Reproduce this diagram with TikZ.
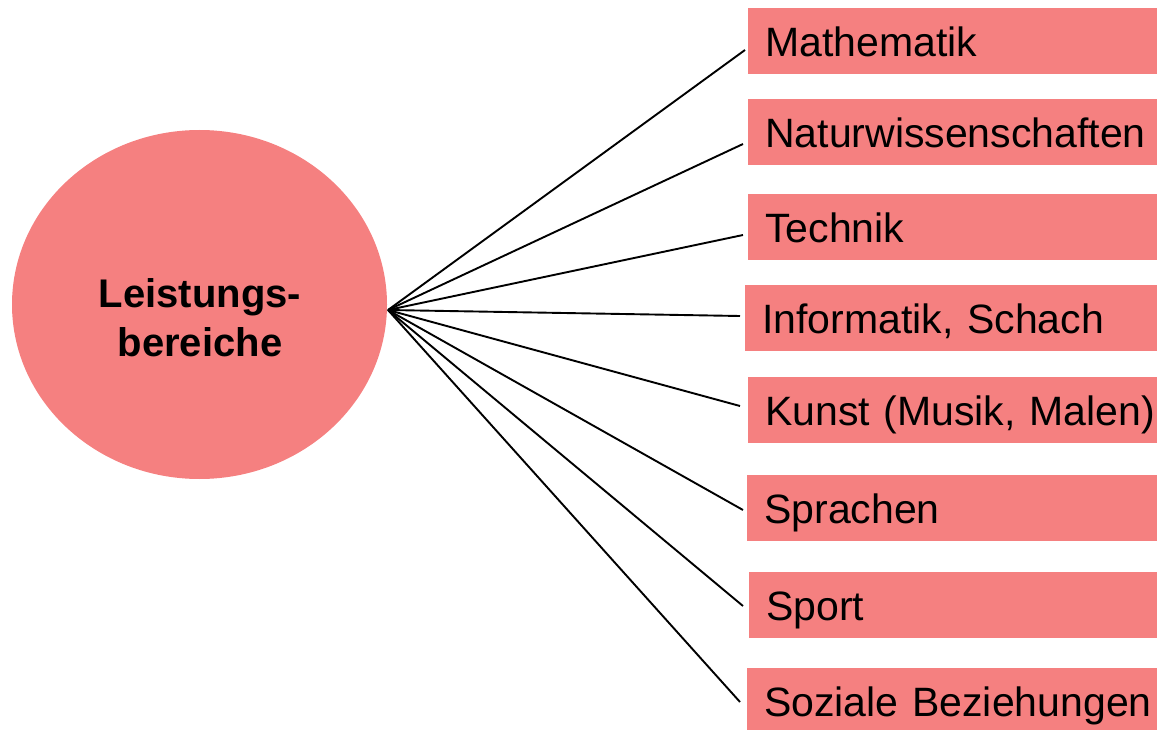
\documentclass[tikz,border=0pt]{standalone}
\usepackage{fontspec}
\setmainfont{Liberation Sans}
\usetikzlibrary{shapes.geometric}
\definecolor{salmon}{RGB}{245,128,128}
\tikzset{
  hubshape/.style={ellipse, fill=salmon, draw=none, inner sep=0pt, minimum width=375pt, minimum height=349pt},
  hubtext/.style={font=\fontsize{40}{49}\selectfont\bfseries, align=center, anchor=base, inner sep=0pt},
  area/.style={rectangle, fill=salmon, draw=none, anchor=north west, inner xsep=17pt, inner ysep=0pt,
    text width=450pt, text height=48pt, text depth=18pt, align=left, font=\fontsize{41}{49}\selectfont},
  link/.style={draw=black, line width=1.9pt}
}
\begin{document}
\begin{tikzpicture}[x=1pt,y=-1pt]
\useasboundingbox (0,0) rectangle (1157,730);
\begin{scope}
\clip (0,0) rectangle (1157,730);
\node[hubshape] (hub) at (199.5,304.5) {};
\node[hubtext] (hubl) at (200,356) {Leistungs-\\bereiche};
\coordinate (h) at (388,310);
\node[area] (a1) at (748,8) {Mathematik};
\node[area] (a2) at (748,99) {Naturwissenschaften};
\node[area] (a3) at (748,194) {Technik};
\node[area] (a4) at (745,285) {Informatik, Schach};
\node[area] (a5) at (748,377) {Kunst (Musik, Malen)};
\node[area] (a6) at (747,475) {Sprachen};
\node[area] (a7) at (749,572) {Sport};
\node[area] (a8) at (747,668) {Soziale Beziehungen};
\coordinate (e1) at (745,50);
\coordinate (e2) at (743,144);
\coordinate (e3) at (743,235);
\coordinate (e4) at (740,316);
\coordinate (e5) at (740,406);
\coordinate (e6) at (743,510);
\coordinate (e7) at (743,606);
\coordinate (e8) at (740,702);
\foreach \i in {1,...,8} {\draw[link] (h) -- (e\i);}
\end{scope}
\end{tikzpicture}
\end{document}
